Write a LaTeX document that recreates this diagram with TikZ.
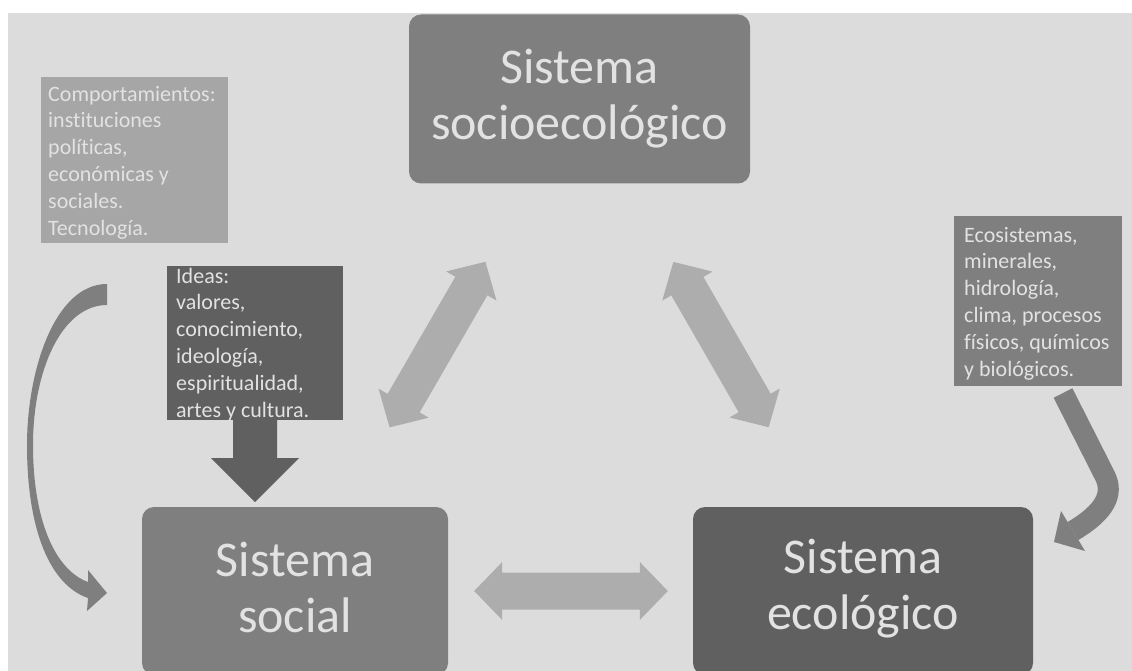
\documentclass[tikz,border=0pt]{standalone}
\usepackage{fontspec}
\setmainfont[Ligatures=NoCommon]{Carlito}
\usetikzlibrary{calc}

\definecolor{bg}{HTML}{DCDCDC}
\definecolor{midgray}{HTML}{7F7F7F}
\definecolor{darkgray}{HTML}{606060}
\definecolor{lightbox}{HTML}{A6A6A6}
\definecolor{arrowgray}{HTML}{ADADAD}
\definecolor{txt}{HTML}{E2E2E2}

\tikzset{
  sysbox/.style={rounded corners=12pt, inner sep=0pt, align=center, text=txt,
    font=\fontsize{50}{56}\selectfont},
  infobox/.style={inner sep=0pt},
  % anchored at the baseline of the last line
  infotext/.style={anchor=base west, inner sep=0pt, align=left, text=txt,
    font=\fontsize{22}{26.8}\selectfont},
  blockarrow/.style={fill=arrowgray},
}

% two-headed block arrow between two tip points
\newcommand\twowayarrow[2]{%
  \path ($(#1)!28pt!(#2)$) coordinate (hA) ($(#2)!28pt!(#1)$) coordinate (hB);
  \fill[blockarrow] (#1)
    -- ($(hA)!29pt!90:(#2)$) -- ($(hA)!18.5pt!90:(#2)$)
    -- ($(hB)!18.5pt!-90:(#1)$) -- ($(hB)!29pt!-90:(#1)$)
    -- (#2)
    -- ($(hB)!29pt!90:(#1)$) -- ($(hB)!18.5pt!90:(#1)$)
    -- ($(hA)!18.5pt!-90:(#2)$) -- ($(hA)!29pt!-90:(#2)$)
    -- cycle;}

\begin{document}
\begin{tikzpicture}[x=1pt,y=-1pt]
\useasboundingbox (0,0) rectangle (1132,671);
\clip (0,0) rectangle (1132,671);
\fill[white] (0,0) rectangle (1132,671);
\fill[bg] (8,13) rectangle (1132,671);

% the three systems
\node[sysbox, fill=midgray, minimum width=341pt, minimum height=169pt] (top) at (579.5,99) {Sistema\\socioecológico};
\node[sysbox, fill=midgray, minimum width=306pt, minimum height=168pt] (social) at (295,591) {};
\node[sysbox, fill=darkgray, minimum width=340pt, minimum height=168pt] (eco) at (863,591) {};
\node[sysbox] (socialtext) at ($(social.center)+(0,-4)$) {Sistema\\social};
\node[sysbox] (ecotext) at ($(eco.center)+(0,-2)$) {Sistema\\ecológico};

% information boxes
\node[infobox, fill=lightbox, minimum width=187pt, minimum height=166pt] (comp) at (134.5,160) {};
\node[infobox, fill=darkgray, minimum width=176pt, minimum height=154pt] (ideas) at (255,343) {};
\node[infobox, fill=midgray, minimum width=168pt, minimum height=170pt] (ecos) at (1038,301) {};

% two-way links between systems
\coordinate (d1a) at ($(social.center)!189pt!(top.center)$);
\coordinate (d1b) at ($(top.center)!188pt!(social.center)$);
\coordinate (d2a) at ($(top.center)!188pt!(eco.center)$);
\coordinate (d2b) at ($(eco.center)!189pt!(top.center)$);
\coordinate (h1) at ($(social.east)!26pt!(eco.west)$);
\coordinate (h2) at ($(eco.west)!25pt!(social.east)$);
\twowayarrow{d1a}{d1b}
\twowayarrow{d2a}{d2b}
\twowayarrow{h1}{h2}

% ideas feed the social system
\fill[darkgray] (ideas.south) ++(-22,0) -- ++(0,38) -- ++(-22,0) -- ++(44,44)
  -- ++(44,-44) -- ++(-22,0) -- ++(0,-38) -- cycle;

% behaviours feed the social system (tapering curved arrow)
\coordinate (cstart) at (107,284);
\fill[midgray] (cstart) .. controls (55,284) and (27,370) .. (27,445)
  .. controls (27,530) and (50,585) .. (88,598)
  -- (87,611) -- (107,593) -- (88,570) -- (88,582)
  .. controls (55,570) and (33,520) .. (33,445)
  .. controls (33,370) and (62,305) .. (107,305) -- cycle;

% ecosystem elements feed the ecological system
\coordinate (rstart) at (1063,393);
\coordinate (rend) at (1073,531);
\draw[midgray, line width=21pt] (rstart) -- (1105,476) .. controls (1114,494) and (1105,512) .. (rend);
\fill[midgray] (1085,551) -- (1054,542) -- (1061,511) -- cycle;

% texts of the information boxes
\node[infotext] (comptext) at (48,235) {Comportamientos:\\instituciones\\políticas,\\económicas y\\sociales.\\Tecnología.};
\node[infotext] (ideastext) at (176,417) {Ideas:\\valores,\\conocimiento,\\ideología,\\espiritualidad,\\artes y cultura.};
\node[infotext] (ecostext) at (964,376) {Ecosistemas,\\minerales,\\hidrología,\\clima, procesos\\físicos, químicos\\y biológicos.};
\end{tikzpicture}
\end{document}
